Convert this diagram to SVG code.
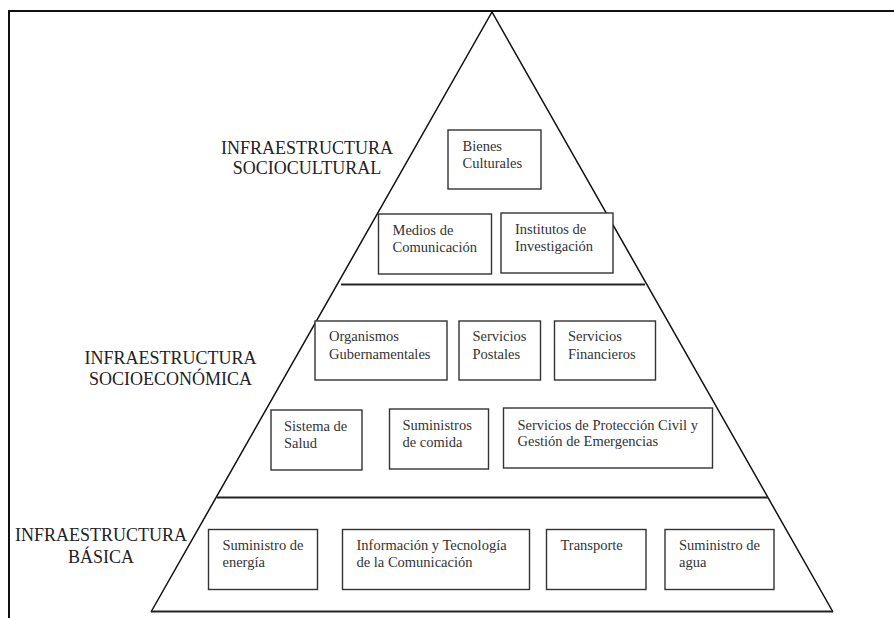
<svg xmlns="http://www.w3.org/2000/svg" width="894" height="618" viewBox="0 0 894 618">
<style>
.frame{fill:none;stroke:#111;stroke-width:2}
.side{fill:none;stroke:#111;stroke-width:1.5}
.div{fill:none;stroke:#222;stroke-width:2.2}
.box{fill:#fff;stroke:#333;stroke-width:1.4}
.t{font-family:"Liberation Serif","Times New Roman",serif;font-size:14.5px;fill:#333}
.lbl{font-family:"Liberation Serif","Times New Roman",serif;font-size:18px;fill:#222;text-anchor:middle}
</style>
<rect width="894" height="618" fill="#fff"/>
<g id="frame">
<path class="frame" d="M9,630 V11 H900"/>
</g>
<g id="pyramid">
<path class="side" d="M151,612 L492,12 L833,612"/>
<line class="div" x1="151" y1="611.5" x2="833" y2="611.5"/>
<line class="div" x1="341" y1="284.5" x2="645" y2="284.5"/>
<line class="div" x1="217" y1="497.5" x2="768" y2="497.5"/>
</g>
<g id="labels">
<g id="lbl-sociocultural"><text class="lbl" x="307" y="153.5">INFRAESTRUCTURA</text><text class="lbl" x="307" y="174">SOCIOCULTURAL</text></g>
<g id="lbl-socioeconomica"><text class="lbl" x="170.5" y="364">INFRAESTRUCTURA</text><text class="lbl" x="170.5" y="385">SOCIOECONÓMICA</text></g>
<g id="lbl-basica"><text class="lbl" x="101" y="541">INFRAESTRUCTURA</text><text class="lbl" x="101" y="563">BÁSICA</text></g>
</g>
<g id="n-bienes"><rect class="box" x="448" y="130" width="93" height="59"/><text class="t" x="462.5" y="151">Bienes</text><text class="t" x="462.5" y="168">Culturales</text></g>
<g id="n-medios"><rect class="box" x="378.5" y="214" width="113" height="60"/><text class="t" x="392.5" y="235">Medios de</text><text class="t" x="392.5" y="252">Comunicación</text></g>
<g id="n-institutos"><rect class="box" x="501" y="213" width="112" height="60"/><text class="t" x="515" y="234">Institutos de</text><text class="t" x="515" y="251">Investigación</text></g>
<g id="n-organismos"><rect class="box" x="315" y="321" width="132" height="59"/><text class="t" x="329" y="341">Organismos</text><text class="t" x="329" y="358.5">Gubernamentales</text></g>
<g id="n-postales"><rect class="box" x="459" y="321" width="81.5" height="59"/><text class="t" x="472.5" y="341">Servicios</text><text class="t" x="472.5" y="358.5">Postales</text></g>
<g id="n-financieros"><rect class="box" x="554.5" y="321" width="101" height="59"/><text class="t" x="568" y="341">Servicios</text><text class="t" x="568" y="358.5">Financieros</text></g>
<g id="n-salud"><rect class="box" x="271" y="410" width="91" height="60"/><text class="t" x="284" y="430.5">Sistema de</text><text class="t" x="284" y="448">Salud</text></g>
<g id="n-comida"><rect class="box" x="389.5" y="409" width="99" height="60"/><text class="t" x="402.5" y="430">Suministros</text><text class="t" x="402.5" y="447">de comida</text></g>
<g id="n-proteccion"><rect class="box" x="503.5" y="408" width="209" height="60"/><text class="t" x="517.5" y="430">Servicios de Protección Civil y</text><text class="t" x="517.5" y="446">Gestión de Emergencias</text></g>
<g id="n-energia"><rect class="box" x="208.5" y="529.5" width="109" height="60"/><text class="t" x="222.5" y="550">Suministro de</text><text class="t" x="222.5" y="567">energía</text></g>
<g id="n-tic"><rect class="box" x="342.5" y="529.5" width="187" height="60"/><text class="t" x="356.5" y="550">Información y Tecnología</text><text class="t" x="356.5" y="567">de la Comunicación</text></g>
<g id="n-transporte"><rect class="box" x="546.5" y="529.5" width="99.5" height="60"/><text class="t" x="560.5" y="550">Transporte</text></g>
<g id="n-agua"><rect class="box" x="665" y="529.5" width="109" height="60"/><text class="t" x="679" y="550">Suministro de</text><text class="t" x="679" y="567">agua</text></g>
<g id="connectors"></g>
</svg>
